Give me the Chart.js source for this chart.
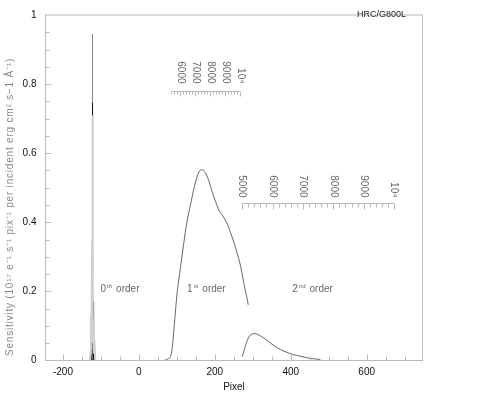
<!DOCTYPE html>
<html>
<head>
<meta charset="utf-8">
<script src="https://cdn.jsdelivr.net/npm/chart.js@4/dist/chart.umd.min.js"></script>
<style>
  html, body { margin: 0; padding: 0; background: #fff; }
  canvas { display: block; }
</style>
</head>
<body>
<canvas id="chart" width="486" height="399"></canvas>
<script>
// 0th order spike: three overlapping traces
const zerothLightX = [-129, -127.5, -126.5, -125.5, -123, -121.6, -121.2, -120, -118.5, -117, -115];
const zerothLightY = [0, 0.02, 0.13, 0.03, 0.35, 0.71, 0.05, 0.12, 0.02, 0.06, 0];
const zerothBlackX = [-124.5, -123.5, -122.9, -122.2, -121.5, -120.8, -120.2, -119.5, -118.5];
const zerothBlackY = [0, 0.05, 0.746, 0.1, 0.22, 0.04, 0.17, 0.03, 0];
const zerothGrayX = [-123.2, -122.7, -122.3, -121.8];
const zerothGrayY = [0, 0.945, 0.02, 0];

// 1st order sensitivity
const firstOrderX = [60, 70, 83, 88, 92, 97, 101, 110, 118, 127, 136, 145, 154, 160, 167, 175, 184, 193, 202, 210, 215, 224, 233, 241, 250, 259, 268, 276, 285, 288];
const firstOrderY = [0, 0.001, 0.011, 0.039, 0.086, 0.151, 0.198, 0.273, 0.338, 0.404, 0.451, 0.498, 0.535, 0.549, 0.552, 0.544, 0.521, 0.488, 0.46, 0.437, 0.428, 0.413, 0.395, 0.371, 0.343, 0.31, 0.273, 0.226, 0.179, 0.161];

// 2nd order sensitivity
const secondOrderX = [272, 276, 281, 287, 294, 304, 316, 329, 347, 364, 382, 404, 426, 452, 478];
const secondOrderY = [0.011, 0.025, 0.044, 0.062, 0.074, 0.078, 0.074, 0.065, 0.05, 0.037, 0.027, 0.018, 0.012, 0.006, 0.003];

// axes
const xTickValues = [-200, 0, 200, 400, 600];
const yTickValues = [0, 0.2, 0.4, 0.6, 0.8, 1];

// wavelength scales (Angstrom) for the two orders
const wave1Ticks = [6000, 7000, 8000, 9000, 10000];
const wave1Labels = ['6000', '7000', '8000', '9000', '10⁴'];
const wave2Ticks = [5000, 6000, 7000, 8000, 9000, 10000];
const wave2Labels = ['5000', '6000', '7000', '8000', '9000', '10⁴'];

// order labels
const orderNames = [['0', 'th'], ['1', 'st'], ['2', 'nd']];
const orderX = [-101, 127, 404];

const FONT = "'Liberation Sans', Arial, sans-serif";
const Y_TITLE = 'Sensitivity (10¹⁷ e⁻¹ s⁻¹ pix⁻¹ per incident erg cm² s−1 Å⁻¹)';

function pts(xs, ys) {
  return xs.map((x, i) => ({ x: x, y: ys[i] }));
}

// wavelength -> pixel (x data) for each order
function wave1ToX(w) { return 109.2 + (w - 6000) * 0.03948; }
function wave2ToX(w) { return 272 + (w - 5000) * 0.08; }

function drawWaveAxis(ctx, xs, ys, ticks, labels, from, to, yVal, toX, minorLen, majorLen, gap) {
  const y = Math.round(ys.getPixelForValue(yVal)) + 0.5;
  const x0 = xs.getPixelForValue(toX(from));
  const x1 = xs.getPixelForValue(toX(to));
  ctx.strokeStyle = '#bbb';
  ctx.lineWidth = 1;
  ctx.beginPath();
  ctx.moveTo(x0, y);
  ctx.lineTo(x1, y);
  for (let w = from; w <= to; w += 200) {
    const px = Math.round(xs.getPixelForValue(toX(w))) + 0.5;
    const len = (w % 1000 === 0) ? majorLen : minorLen;
    ctx.moveTo(px, y);
    ctx.lineTo(px, y + len);
  }
  ctx.stroke();

  ctx.fillStyle = '#666';
  ctx.font = '10px ' + FONT;
  ctx.textAlign = 'right';
  ctx.textBaseline = 'middle';
  ticks.forEach((w, i) => {
    const px = xs.getPixelForValue(toX(w));
    ctx.save();
    ctx.translate(px, y - gap);
    ctx.rotate(Math.PI / 2);
    ctx.fillText(labels[i], 0, 0);
    ctx.restore();
  });
}

const decor = {
  id: 'decor',
  afterDraw(chart) {
    const ctx = chart.ctx;
    const a = chart.chartArea;
    const xs = chart.scales.x;
    const ys = chart.scales.y;
    ctx.save();

    // frame
    ctx.strokeStyle = '#bbb';
    ctx.lineWidth = 1;
    ctx.strokeRect(a.left, a.top, a.right - a.left, a.bottom - a.top);

    // inner ticks
    ctx.beginPath();
    for (let v = -200; v <= xs.max; v += 50) {
      const px = Math.round(xs.getPixelForValue(v)) + 0.5;
      const len = (v % 200 === 0) ? 6 : 4;
      ctx.moveTo(px, a.bottom);
      ctx.lineTo(px, a.bottom - len);
    }
    for (let i = 1; i < 20; i++) {
      const py = Math.round(ys.getPixelForValue(i * 0.05)) + 0.5;
      const len = (i % 4 === 0) ? 6 : 4;
      ctx.moveTo(a.left, py);
      ctx.lineTo(a.left + len, py);
    }
    ctx.stroke();

    // wavelength scales
    drawWaveAxis(ctx, xs, ys, wave1Ticks, wave1Labels, 5400, 10000, 0.779, wave1ToX, 3, 5, 8);
    drawWaveAxis(ctx, xs, ys, wave2Ticks, wave2Labels, 5000, 10000, 0.456, wave2ToX, 4, 6, 6);

    // order labels
    ctx.fillStyle = '#666';
    ctx.textAlign = 'left';
    ctx.textBaseline = 'middle';
    orderNames.forEach((n, i) => {
      let px = xs.getPixelForValue(orderX[i]);
      const py = ys.getPixelForValue(0.207);
      ctx.font = '10px ' + FONT;
      ctx.fillText(n[0], px, py);
      px += ctx.measureText(n[0]).width + 1;
      ctx.font = '6px ' + FONT;
      ctx.fillText(n[1], px, py - 3);
      px += ctx.measureText(n[1]).width + 4;
      ctx.font = '10px ' + FONT;
      ctx.fillText('order', px, py);
    });

    // instrument name
    ctx.fillStyle = '#222';
    ctx.font = '9px ' + FONT;
    ctx.textAlign = 'right';
    ctx.fillText('HRC/G800L', 406, 15);

    // y title, stretched to the length it has in the original
    ctx.fillStyle = '#888';
    ctx.font = '10px ' + FONT;
    ctx.textAlign = 'center';
    const w = ctx.measureText(Y_TITLE).width;
    ctx.letterSpacing = Math.max(0, (298 - w) / Y_TITLE.length).toFixed(2) + 'px';
    ctx.translate(10, 207);
    ctx.rotate(-Math.PI / 2);
    ctx.fillText(Y_TITLE, 0, 0);
    ctx.restore();
  }
};

new Chart(document.getElementById('chart'), {
  type: 'line',
  data: {
    datasets: [
      { data: pts(zerothLightX, zerothLightY), borderColor: '#cfcfcf', borderWidth: 2 },
      { data: pts(zerothBlackX, zerothBlackY), borderColor: '#111', borderWidth: 1 },
      { data: pts(zerothGrayX, zerothGrayY), borderColor: '#8a8a8a', borderWidth: 1 },
      { data: pts(firstOrderX, firstOrderY), borderColor: '#555', borderWidth: 0.9, tension: 0.3 },
      { data: pts(secondOrderX, secondOrderY), borderColor: '#555', borderWidth: 0.9, tension: 0.3 }
    ]
  },
  options: {
    responsive: false,
    animation: false,
    devicePixelRatio: 1,
    layout: { padding: { top: 4.5, right: 63.5, bottom: 0, left: 0 } },
    elements: { point: { radius: 0 }, line: { fill: false } },
    plugins: { legend: { display: false }, tooltip: { enabled: false } },
    scales: {
      x: {
        type: 'linear',
        min: -246,
        max: 747,
        afterBuildTicks: s => { s.ticks = xTickValues.map(v => ({ value: v })); },
        afterFit: s => { s.height = 38.5; },
        grid: { display: false, drawTicks: false },
        border: { display: false },
        ticks: { padding: 6, maxRotation: 0, color: '#111', font: { family: FONT, size: 10 } },
        title: { display: true, text: 'Pixel', color: '#111', font: { family: FONT, size: 10 }, padding: { top: 0, bottom: 6 } }
      },
      y: {
        min: 0,
        max: 1,
        afterBuildTicks: s => { s.ticks = yTickValues.map(v => ({ value: v })); },
        afterFit: s => { s.width = 45.5; },
        grid: { display: false, drawTicks: false },
        border: { display: false },
        ticks: {
          padding: 9,
          color: '#111',
          font: { family: FONT, size: 10 },
          callback: v => String(Math.round(v * 10) / 10)
        }
      }
    }
  },
  plugins: [decor]
});
</script>
</body>
</html>
